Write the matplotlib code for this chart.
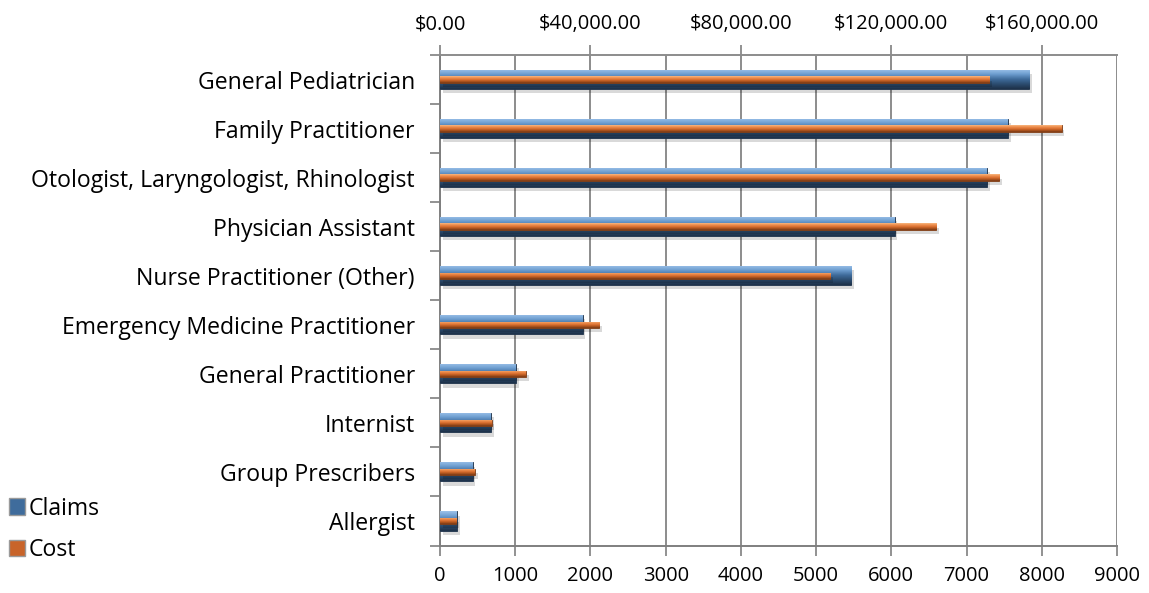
#!/usr/bin/env python3
"""
Claims and cost by prescriber type
"""

import numpy as np
import matplotlib
matplotlib.use("Agg")
import matplotlib.pyplot as plt
import matplotlib.patheffects as pe
from matplotlib.colors import LinearSegmentedColormap
from matplotlib.patches import Patch
from matplotlib.ticker import FuncFormatter

# データ（上から順）
categories = [
    "General Pediatrician",
    "Family Practitioner",
    "Otologist, Laryngologist, Rhinologist",
    "Physician Assistant",
    "Nurse Practitioner (Other)",
    "Emergency Medicine Practitioner",
    "General Practitioner",
    "Internist",
    "Group Prescribers",
    "Allergist",
]
claims = [7835, 7550, 7270, 6045, 5465, 1895, 1010, 675, 435, 225]
cost = [146000, 165300, 148700, 131900, 103700, 42300, 22800, 13700, 9300, 4300]

claims_ticks = list(range(0, 9001, 1000))
cost_ticks = [0, 40000, 80000, 120000, 160000]

plt.rcParams['font.family'] = ['Open Sans', 'DejaVu Sans']
FS = 16.6
TFS = 14.5

blue_cmap = LinearSegmentedColormap.from_list(
    "blue3d", ["#9cc2ea", "#6d9dcf", "#3f6c9c", "#2c4d70", "#1d3149"])
orange_cmap = LinearSegmentedColormap.from_list(
    "orange3d", ["#f8b782", "#ee9050", "#dd7232", "#b2561f", "#7a3a14"])


def gradient_bars(ax, bars, cmap):
    """バーを縦グラデーションで塗る"""
    grad = np.linspace(0, 1, 64).reshape(-1, 1)
    for bar in bars:
        x0, y0 = bar.get_x(), bar.get_y()
        w, h = bar.get_width(), bar.get_height()
        im = ax.imshow(grad, extent=(x0, x0 + w, y0, y0 + h), origin='upper',
                       aspect='auto', cmap=cmap, zorder=bar.get_zorder() + 0.1,
                       interpolation='bilinear')
        im.set_clip_path(bar)


fig = plt.figure(figsize=(11.49, 5.93), dpi=100)
ax = fig.add_axes([440 / 1149, 1 - 545.5 / 593, 677 / 1149, 490.5 / 593])

n = len(categories)
y = np.arange(n)[::-1]

shadow = [pe.SimplePatchShadow(offset=(2, -3), shadow_rgbFace='black', alpha=0.15), pe.Normal()]

claim_bars = ax.barh(y, claims, height=0.39, color='#2c4d70', edgecolor='#1d3149',
                     linewidth=0.6, zorder=3, path_effects=shadow)
gradient_bars(ax, claim_bars, blue_cmap)

ax.set_xlim(0, 9000)
ax.set_ylim(-0.5, n - 0.5)
ax.set_xticks(claims_ticks)
ax.set_yticks(y)
ax.set_yticklabels(categories, fontsize=FS)
ax.set_yticks(np.arange(-0.5, n, 1.0), minor=True)
ax.tick_params(axis='y', which='major', length=0, pad=18)
ax.tick_params(axis='y', which='minor', length=7, width=1.2, color='#7f7f7f')
ax.tick_params(axis='x', which='major', length=7, width=1.2, color='#7f7f7f',
               labelsize=TFS, pad=8)
ax.grid(axis='x', color='#8c8c8c', linewidth=1.4)
ax.set_axisbelow(True)
for side in ['left', 'bottom']:
    ax.spines[side].set_color('#7f7f7f')
    ax.spines[side].set_linewidth(1.4)
ax.spines['right'].set_visible(False)
ax.spines['top'].set_visible(False)

# コスト（上軸）
ax2 = ax.twiny()
cost_bars = ax2.barh(y, cost, height=0.13, color='#dd7232', edgecolor='#7a3a14',
                     linewidth=0.6, zorder=4, path_effects=shadow)
gradient_bars(ax2, cost_bars, orange_cmap)
ax2.set_xlim(0, 180000)
ax2.set_ylim(-0.5, n - 0.5)
ax2.set_xticks(cost_ticks)
ax2.xaxis.set_major_formatter(FuncFormatter(lambda v, p: f"${v:,.2f}"))
ax2.tick_params(axis='x', which='major', length=7, width=1.2, color='#7f7f7f',
                labelsize=TFS, pad=8)
ax2.spines['top'].set_color('#8c8c8c')
ax2.spines['top'].set_linewidth(1.4)
for side in ['left', 'bottom', 'right']:
    ax2.spines[side].set_visible(False)

# 凡例
handles = [Patch(facecolor='#3f6c9c', edgecolor='#9a9a9a'),
           Patch(facecolor='#c8642a', edgecolor='#9a9a9a')]
fig.legend(handles, ['Claims', 'Cost'], loc='lower left',
           bbox_to_anchor=(0.0, 0.037), frameon=False, fontsize=FS,
           handlelength=0.7, handleheight=0.7, handletextpad=0.15,
           labelspacing=0.75, borderaxespad=0.0)

plt.savefig("out.png", dpi=100)
plt.close()
